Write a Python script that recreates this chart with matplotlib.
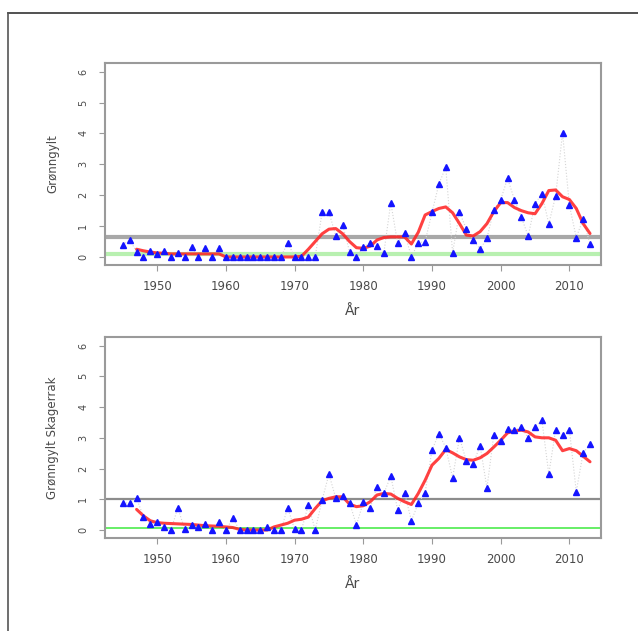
import numpy as np
import matplotlib
matplotlib.use("Agg")
import matplotlib.pyplot as plt
from matplotlib.lines import Line2D

years = list(range(1945, 2014))

# Top panel: Grønngylt
top_values = [0.39, 0.55, 0.17, 0.0, 0.2, 0.1, 0.2, 0.0, 0.13, 0.0,
              0.33, 0.0, 0.28, 0.0, 0.28, 0.0, 0.0, 0.0, 0.0, 0.0,
              0.0, 0.0, 0.0, 0.0, 0.46, 0.0, 0.0, 0.0, 0.0, 1.45,
              1.45, 0.68, 1.04, 0.17, 0.0, 0.33, 0.46, 0.36, 0.14, 1.76,
              0.44, 0.79, 0.0, 0.46, 0.50, 1.44, 2.36, 2.91, 0.14, 1.44,
              0.91, 0.55, 0.25, 0.61, 1.53, 1.85, 2.55, 1.85, 1.29, 0.68,
              1.72, 2.05, 1.07, 1.98, 4.02, 1.67, 0.63, 1.23, 0.42]
top_smooth_years = list(range(1947, 2014))
top_smooth = [0.25, 0.2, 0.16, 0.13, 0.12, 0.1, 0.1, 0.1, 0.1, 0.1,
              0.1, 0.1, 0.1, 0.0, 0.0, 0.0, 0.0, 0.0, 0.0, 0.0,
              0.0, 0.0, 0.0, 0.0, 0.02, 0.25, 0.5, 0.75, 0.9, 0.92,
              0.75, 0.5, 0.3, 0.28, 0.35, 0.55, 0.63, 0.65, 0.65, 0.65,
              0.42, 0.8, 1.36, 1.47, 1.57, 1.62, 1.43, 1.08, 0.71, 0.68,
              0.82, 1.08, 1.47, 1.76, 1.76, 1.6, 1.5, 1.43, 1.4, 1.73,
              2.15, 2.17, 1.95, 1.86, 1.57, 1.08, 0.76]
top_ref_gray = 0.65
top_ref_green = 0.08

# Bottom panel: Grønngylt Skagerrak
bot_values = [0.87, 0.89, 1.03, 0.43, 0.19, 0.27, 0.09, 0.0, 0.72, 0.02,
              0.16, 0.09, 0.19, 0.0, 0.27, 0.0, 0.38, 0.0, 0.0, 0.0,
              0.0, 0.09, 0.0, 0.0, 0.72, 0.02, 0.0, 0.81, 0.0, 0.97,
              1.82, 1.03, 1.1, 0.89, 0.16, 0.9, 0.72, 1.41, 1.19, 1.76,
              0.66, 1.22, 0.30, 0.87, 1.22, 2.6, 3.14, 2.68, 1.70, 3.0,
              2.25, 2.16, 2.74, 1.37, 3.1, 2.89, 3.3, 3.25, 3.36, 3.0,
              3.36, 3.57, 1.82, 3.26, 3.08, 3.26, 1.25, 2.51, 2.79]
bot_smooth_years = list(range(1947, 2014))
bot_smooth = [0.67, 0.46, 0.3, 0.24, 0.22, 0.21, 0.2, 0.19, 0.18, 0.16,
              0.14, 0.13, 0.12, 0.1, 0.08, 0.02, 0.0, 0.0, 0.0, 0.0,
              0.1, 0.16, 0.22, 0.32, 0.35, 0.42, 0.7, 0.95, 1.03, 1.08,
              1.08, 0.84, 0.76, 0.79, 0.92, 1.14, 1.19, 1.17, 1.03, 0.92,
              0.83, 1.19, 1.62, 2.11, 2.33, 2.62, 2.51, 2.38, 2.29, 2.27,
              2.35, 2.49, 2.7, 2.92, 3.16, 3.22, 3.25, 3.19, 3.03, 3.0,
              3.0, 2.92, 2.58, 2.65, 2.58, 2.4, 2.22]
bot_ref_gray = 1.0
bot_ref_green = 0.05

y_ticks = [0, 1, 2, 3, 4, 5, 6]
x_ticks = [1950, 1960, 1970, 1980, 1990, 2000, 2010]
x_label = "År"
top_ylabel = "Grønngylt"
bot_ylabel = "Grønngylt Skagerrak"

W, H = 638, 631
fig = plt.figure(figsize=(W / 100, H / 100), dpi=100)
fig.patch.set_facecolor("white")

# outer frame lines (top and left)
fig.add_artist(Line2D([8 / W, 1.0], [1 - 13 / H, 1 - 13 / H], color="#333333", lw=1.2))
fig.add_artist(Line2D([8 / W, 8 / W], [0.0, 1 - 13 / H], color="#555555", lw=1.2))

txt_col = "#4a4a4a"
frame_col = "#9a9a9a"


def panel(rect, values, sm_years, smooth, gray_y, green_y, ylabel, gray_lw, gray_col, green_lw, green_col):
    ax = fig.add_axes(rect)
    ax.set_xlim(1942.4, 2014.6)
    ax.set_ylim(-0.26, 6.28)
    ax.axhline(green_y, color=green_col, lw=green_lw, zorder=1)
    ax.axhline(gray_y, color=gray_col, lw=gray_lw, zorder=1)
    ax.plot(years, values, color="#d4d4d4", lw=0.8, ls=":", zorder=2)
    ax.plot(sm_years, smooth, color="#ff2020", lw=2.2, alpha=0.85, zorder=3, solid_capstyle="round")
    ax.plot(years, values, ls="none", marker="^", color="#1414ff", markersize=4.5, zorder=4)
    ax.set_xticks(x_ticks)
    ax.set_yticks(y_ticks)
    ax.set_xticklabels([str(t) for t in x_ticks], fontsize=8.5, color=txt_col)
    ax.set_yticklabels([str(t) for t in y_ticks], fontsize=7, color=txt_col, rotation=90, va="center")
    ax.tick_params(axis="both", direction="out", length=4, width=0.8, color=frame_col)
    ax.tick_params(axis="x", pad=7)
    ax.tick_params(axis="y", pad=8)
    for s in ax.spines.values():
        s.set_color(frame_col)
        s.set_linewidth(1.5)
    ax.set_xlabel(x_label, fontsize=10, color=txt_col, labelpad=8)
    ax.set_ylabel(ylabel, fontsize=8.5, color=txt_col, labelpad=14)
    return ax


panel([105 / W, 1 - 265 / H, 496 / W, 202 / H], top_values, top_smooth_years, top_smooth,
      top_ref_gray, top_ref_green, top_ylabel, 3.0, "#a8a8a8", 3.0, "#b8f0b0")
panel([105 / W, 1 - 538 / H, 496 / W, 201 / H], bot_values, bot_smooth_years, bot_smooth,
      bot_ref_gray, bot_ref_green, bot_ylabel, 1.6, "#8c8c8c", 1.4, "#66ee66")

fig.savefig("out.png", dpi=100, facecolor="white")
